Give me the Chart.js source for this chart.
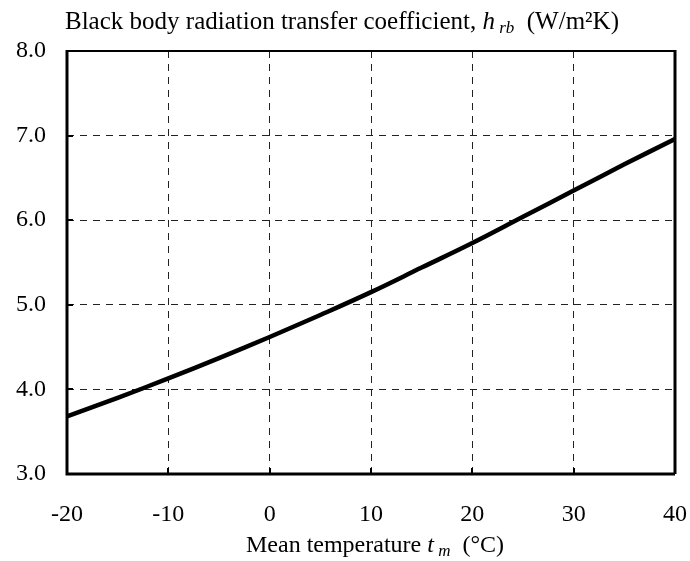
<!DOCTYPE html>
<html><head><meta charset="utf-8">
<script src="https://cdn.jsdelivr.net/npm/chart.js@4/dist/chart.umd.min.js"></script>
<style>html,body{margin:0;padding:0;background:#fff;}#wrap{width:690px;height:561px;}</style>
</head><body><div id="wrap"><canvas id="c" width="690" height="561"></canvas></div>
<script>
const temperatures = [-20, -15, -10, -5, 0, 5, 10, 15, 20, 25, 30, 35, 40];
const hrbValues = [3.68, 3.90, 4.13, 4.37, 4.62, 4.88, 5.15, 5.44, 5.73, 6.04, 6.35, 6.66, 6.96];
const xTicks = [-20, -10, 0, 10, 20, 30, 40];
const yTicks = [3, 4, 5, 6, 7, 8];

const FONT = '"Liberation Serif", "DejaVu Serif", serif';

const framePlugin = {
  id: 'frame',
  afterDraw(chart) {
    const {ctx, chartArea: a, scales: {x, y}} = chart;
    ctx.save();
    ctx.strokeStyle = '#000';
    ctx.setLineDash([]);
    ctx.lineWidth = 2;
    xTicks.forEach(v => {
      const px = Math.round(x.getPixelForValue(v));
      ctx.beginPath(); ctx.moveTo(px, a.bottom); ctx.lineTo(px, a.bottom - 6); ctx.stroke();
    });
    yTicks.forEach(v => {
      const py = Math.round(y.getPixelForValue(v));
      ctx.beginPath(); ctx.moveTo(a.left, py); ctx.lineTo(a.left + 6, py); ctx.stroke();
    });
    ctx.lineWidth = 2;
    ctx.beginPath(); ctx.moveTo(a.left, a.top); ctx.lineTo(a.right, a.top); ctx.stroke();
    ctx.lineWidth = 3;
    ctx.beginPath(); ctx.moveTo(a.right, a.top - 1); ctx.lineTo(a.right, a.bottom); ctx.stroke();
    ctx.beginPath(); ctx.moveTo(a.left, a.top - 1); ctx.lineTo(a.left, a.bottom); ctx.lineTo(a.right, a.bottom); ctx.stroke();

    function drawRich(parts, xStart, yBase, align) {
      let total = 0;
      parts.forEach(p => { ctx.font = p.f; p.w = ctx.measureText(p.t).width; total += p.w; });
      let cx = align === 'center' ? xStart - total / 2 : xStart;
      ctx.fillStyle = '#000';
      ctx.textBaseline = 'alphabetic';
      ctx.textAlign = 'left';
      parts.forEach(p => { ctx.font = p.f; ctx.fillText(p.t, cx, yBase + (p.dy || 0)); cx += p.w; });
    }
    const n = '25px ' + FONT, it = 'italic 25px ' + FONT, sub = 'italic 17px ' + FONT;
    drawRich([
      {t: 'Black body radiation transfer coefficient, ', f: n},
      {t: 'h', f: it},
      {t: ' rb', f: sub, dy: 4},
      {t: '  (W/m²K)', f: n}
    ], 65, 29, 'left');
    const xn = '24px ' + FONT, xit = 'italic 24px ' + FONT, xsub = 'italic 17px ' + FONT;
    drawRich([
      {t: 'Mean temperature ', f: xn},
      {t: 't', f: xit},
      {t: ' m', f: xsub, dy: 4},
      {t: '  (°C)', f: xn}
    ], 375, 552, 'center');
    ctx.restore();
  }
};

new Chart(document.getElementById('c'), {
  type: 'line',
  data: {
    datasets: [{
      data: temperatures.map((t, i) => ({x: t, y: hrbValues[i]})),
      borderColor: '#000',
      borderWidth: 4.5,
      pointRadius: 0,
      tension: 0.4,
      fill: false
    }]
  },
  options: {
    responsive: false,
    animation: false,
    devicePixelRatio: 1,
    layout: {padding: {top: 51, right: 15, left: 0, bottom: 0}},
    plugins: {legend: {display: false}, tooltip: {enabled: false}},
    scales: {
      x: {
        type: 'linear', min: -20, max: 40,
        afterBuildTicks: s => { s.ticks = xTicks.map(v => ({value: v})); },
        afterFit: s => { s.height = 87; s.paddingLeft = 0; s.paddingRight = 0; },
        border: {display: false, dash: [7, 6]},
        grid: {color: '#222', lineWidth: 1, drawTicks: false},
        ticks: {color: '#000', font: {family: FONT, size: 24}, padding: 26, callback: v => String(v), maxRotation: 0}
      },
      y: {
        type: 'linear', min: 3, max: 8,
        afterBuildTicks: s => { s.ticks = yTicks.map(v => ({value: v})); },
        afterFit: s => { s.width = 67; s.paddingTop = 0; s.paddingBottom = 0; },
        border: {display: false, dash: [7, 6]},
        grid: {color: '#222', lineWidth: 1, drawTicks: false},
        ticks: {color: '#000', font: {family: FONT, size: 24}, padding: 21, callback: v => Number(v).toFixed(1)}
      }
    }
  },
  plugins: [framePlugin]
});
</script>
</body></html>
